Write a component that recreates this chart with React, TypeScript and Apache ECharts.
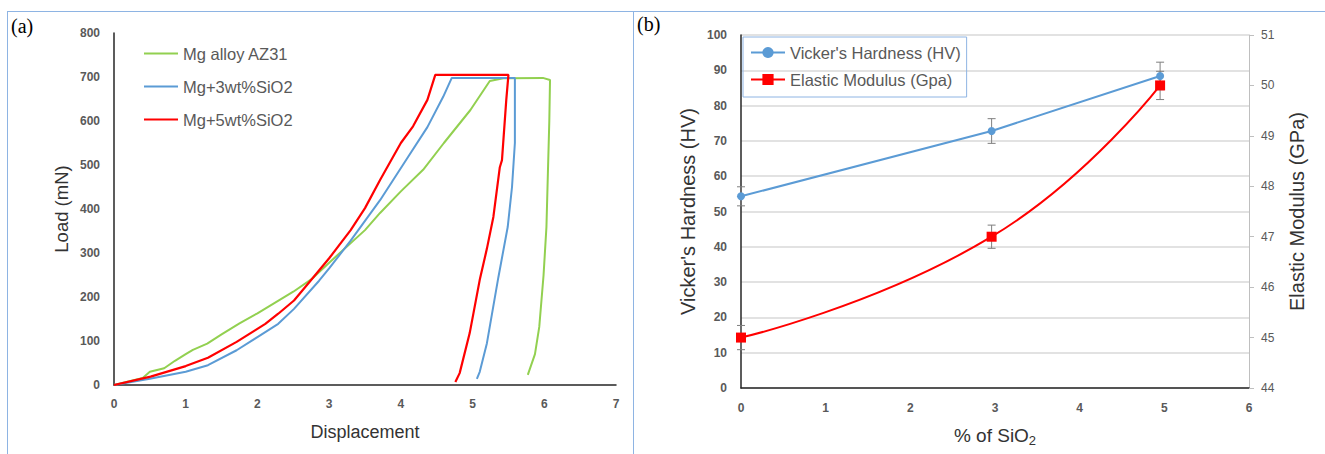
import React, { useEffect, useRef } from "react";
import * as echarts from "echarts";

// ---- Panel (a): load–displacement curves ----
const az31Curve: number[][] = [
  [0, 0], [0.2, 8], [0.4, 16], [0.5, 30], [0.7, 38], [0.85, 55], [1.0, 70], [1.1, 80],
  [1.3, 94], [1.5, 115], [1.75, 140], [2.0, 163], [2.5, 212], [2.75, 240], [3.0, 278],
  [3.5, 352], [3.71, 391], [4.0, 440], [4.31, 489], [4.6, 550], [4.97, 625], [5.24, 691],
  [5.43, 697], [5.98, 698], [6.08, 693], [6.07, 600], [6.05, 480], [6.03, 359],
  [5.99, 250], [5.93, 132], [5.87, 70], [5.77, 23],
];
const sio3Curve: number[][] = [
  [0, 0], [0.5, 14], [1.0, 30], [1.31, 45], [1.71, 79], [2.0, 109], [2.29, 139],
  [2.51, 173], [2.86, 237], [3.0, 265], [3.3, 328], [3.71, 420], [4.1, 518], [4.37, 586],
  [4.59, 655], [4.71, 698], [5.59, 698], [5.59, 550], [5.55, 450], [5.49, 359],
  [5.36, 245], [5.2, 95], [5.1, 30], [5.06, 14],
];
const sio5Curve: number[][] = [
  [0, 0], [0.51, 19], [1.0, 43], [1.31, 62], [1.71, 98], [2.11, 139], [2.29, 162],
  [2.51, 192], [2.74, 237], [3.0, 288], [3.3, 352], [3.5, 402], [3.71, 466], [3.89, 518],
  [4.0, 550], [4.17, 588], [4.37, 648], [4.48, 705], [5.5, 705], [5.47, 648], [5.41, 511],
  [5.38, 495], [5.29, 382], [5.2, 310], [5.1, 239], [4.96, 118], [4.82, 27], [4.76, 7],
];
const curveNames = ["Mg alloy AZ31", "Mg+3wt%SiO2", "Mg+5wt%SiO2"];

// ---- Panel (b): hardness & modulus ----
const sio2Pct = [0, 2.96, 4.95];
const hardness = [54.3, 72.8, 88.4];
const hardnessErr = [2.7, 3.5, 3.9];
const modulus = [45.0, 47.0, 50.0];
const modulusErr = [0.24, 0.23, 0.28];
const seriesNamesB = ["Vicker's Hardness (HV)", "Elastic Modulus (Gpa)"];

const FONT = "'Liberation Sans', Arial, sans-serif";
const LABEL = "#595959";
const TITLE = "#333333";
const BORDER = "#8eb4e3";

function errorBars(values: number[], errs: number[], xAxisIndex: number, yAxisIndex: number) {
  return {
    type: "custom",
    xAxisIndex,
    yAxisIndex,
    z: 1,
    silent: true,
    data: sio2Pct.map((x, i) => [x, values[i] - errs[i], values[i] + errs[i]]),
    encode: { x: 0, y: [1, 2] },
    renderItem: (_p: any, api: any) => {
      const x = api.value(0);
      const top = api.coord([x, api.value(2)]);
      const bot = api.coord([x, api.value(1)]);
      const w = 4;
      const st = { stroke: "#7f7f7f", lineWidth: 1 };
      return {
        type: "group",
        children: [
          { type: "line", shape: { x1: top[0], y1: top[1], x2: bot[0], y2: bot[1] }, style: st },
          { type: "line", shape: { x1: top[0] - w, y1: top[1], x2: top[0] + w, y2: top[1] }, style: st },
          { type: "line", shape: { x1: bot[0] - w, y1: bot[1], x2: bot[0] + w, y2: bot[1] }, style: st },
        ],
      };
    },
  };
}

export default function App() {
  const ref = useRef<HTMLDivElement>(null);
  useEffect(() => {
    if (!ref.current) return;
    const chart = echarts.init(ref.current, null, { renderer: "svg" });
    const tickA = { color: LABEL, fontSize: 12, fontWeight: "bold" as const, fontFamily: FONT };
    const tickB = { color: LABEL, fontSize: 12, fontWeight: "bold" as const, fontFamily: FONT };
    const option: any = {
      animation: false,
      backgroundColor: "#ffffff",
      graphic: [
        { type: "line", shape: { x1: 7, y1: 11.5, x2: 1325, y2: 11.5 }, style: { stroke: BORDER, lineWidth: 1 } },
        { type: "line", shape: { x1: 7.5, y1: 11, x2: 7.5, y2: 454 }, style: { stroke: BORDER, lineWidth: 1 } },
        { type: "line", shape: { x1: 633.5, y1: 11, x2: 633.5, y2: 454 }, style: { stroke: BORDER, lineWidth: 1 } },
        { type: "text", left: 11, top: 16, style: { text: "(a)", fontSize: 20, fontFamily: "'Liberation Serif', serif", fill: "#000" } },
        { type: "text", left: 637, top: 14, style: { text: "(b)", fontSize: 20, fontFamily: "'Liberation Serif', serif", fill: "#000" } },
      ],
      legend: [
        {
          orient: "vertical",
          left: 143,
          top: 45,
          padding: 0,
          itemWidth: 34,
          itemHeight: 14,
          itemGap: 16,
          data: curveNames,
          itemStyle: { opacity: 0 },
          textStyle: { color: LABEL, fontSize: 16.5, fontFamily: FONT },
        },
        {
          orient: "vertical",
          left: 743,
          top: 37,
          padding: [7, 6, 9, 7],
          borderColor: BORDER,
          borderWidth: 1,
          itemWidth: 34,
          itemHeight: 14,
          itemGap: 10,
          data: seriesNamesB,
          textStyle: { color: LABEL, fontSize: 16.5, fontFamily: FONT },
        },
      ],
      grid: [
        { left: 114, top: 33, width: 502, height: 352 },
        { left: 741, top: 35, width: 508, height: 353 },
      ],
      xAxis: [
        {
          gridIndex: 0,
          type: "value",
          min: 0,
          max: 7,
          interval: 1,
          name: "Displacement",
          nameLocation: "middle",
          nameGap: 38,
          nameTextStyle: { color: TITLE, fontSize: 18, fontFamily: FONT },
          axisLine: { show: true, lineStyle: { color: "#262626", width: 1.5 } },
          axisTick: { show: false },
          splitLine: { show: false },
          axisLabel: { ...tickA, margin: 13 },
        },
        {
          gridIndex: 1,
          type: "value",
          min: 0,
          max: 6,
          interval: 1,
          name: "% of SiO{sub|2}",
          nameLocation: "middle",
          nameGap: 35,
          nameTextStyle: {
            color: TITLE,
            fontSize: 19,
            lineHeight: 24,
            fontFamily: FONT,
            rich: { sub: { fontSize: 13, lineHeight: 10, verticalAlign: "bottom", color: TITLE, fontFamily: FONT } },
          },
          axisLine: { show: true, onZero: false, lineStyle: { color: "#262626", width: 1.5 } },
          axisTick: { show: false },
          splitLine: { show: false },
          axisLabel: { ...tickB, margin: 14 },
        },
      ],
      yAxis: [
        {
          gridIndex: 0,
          type: "value",
          min: 0,
          max: 800,
          interval: 100,
          name: "Load (mN)",
          nameLocation: "middle",
          nameRotate: 90,
          nameGap: 43,
          nameTextStyle: { color: TITLE, fontSize: 18.5, fontFamily: FONT },
          axisLine: { show: true, lineStyle: { color: "#262626", width: 1.5 } },
          axisTick: { show: false },
          splitLine: { show: false },
          axisLabel: { ...tickA, margin: 14 },
        },
        {
          gridIndex: 1,
          type: "value",
          min: 0,
          max: 100,
          interval: 10,
          name: "Vicker's Hardness (HV)",
          nameLocation: "middle",
          nameRotate: 90,
          nameGap: 43,
          nameTextStyle: { color: TITLE, fontSize: 20, fontFamily: FONT },
          axisLine: { show: true, lineStyle: { color: "#262626", width: 1.5 } },
          axisTick: { show: false },
          splitLine: { show: true, lineStyle: { color: "#d9d9d9", width: 1.5 } },
          axisLabel: { ...tickB, margin: 14 },
        },
        {
          gridIndex: 1,
          type: "value",
          position: "right",
          min: 44,
          max: 51,
          interval: 1,
          name: "Elastic Modulus (GPa)",
          nameLocation: "middle",
          nameRotate: 90,
          nameGap: 38,
          nameTextStyle: { color: TITLE, fontSize: 20, fontFamily: FONT },
          axisLine: { show: true, lineStyle: { color: "#bfbfbf", width: 1 } },
          axisTick: { show: true, length: 5, lineStyle: { color: "#bfbfbf" } },
          splitLine: { show: false },
          axisLabel: { ...tickB, fontWeight: "normal", margin: 12 },
        },
      ],
      series: [
        { name: curveNames[0], type: "line", xAxisIndex: 0, yAxisIndex: 0, data: az31Curve, showSymbol: false, symbol: "none", lineStyle: { color: "#92d050", width: 2 }, itemStyle: { color: "#92d050" } },
        { name: curveNames[1], type: "line", xAxisIndex: 0, yAxisIndex: 0, data: sio3Curve, showSymbol: false, symbol: "none", lineStyle: { color: "#5b9bd5", width: 2 }, itemStyle: { color: "#5b9bd5" } },
        { name: curveNames[2], type: "line", xAxisIndex: 0, yAxisIndex: 0, data: sio5Curve, showSymbol: false, symbol: "none", lineStyle: { color: "#ff0000", width: 2.2 }, itemStyle: { color: "#ff0000" } },
        errorBars(hardness, hardnessErr, 1, 1),
        errorBars(modulus, modulusErr, 1, 2),
        {
          name: seriesNamesB[0],
          type: "line",
          xAxisIndex: 1,
          yAxisIndex: 1,
          z: 3,
          data: sio2Pct.map((x, i) => [x, hardness[i]]),
          symbol: "circle",
          symbolSize: 8,
          lineStyle: { color: "#5b9bd5", width: 2 },
          itemStyle: { color: "#5b9bd5" },
        },
        {
          name: seriesNamesB[1],
          type: "line",
          xAxisIndex: 1,
          yAxisIndex: 2,
          z: 4,
          smooth: 0.5,
          data: sio2Pct.map((x, i) => [x, modulus[i]]),
          symbol: "rect",
          symbolSize: 10,
          lineStyle: { color: "#ff0000", width: 2 },
          itemStyle: { color: "#ff0000" },
        },
      ],
    };
    chart.setOption(option);
    return () => chart.dispose();
  }, []);
  return (
    <div
      ref={ref}
      style={{ position: "fixed", left: 0, top: 0, width: 1325, height: 454, background: "#fff" }}
    />
  );
}
